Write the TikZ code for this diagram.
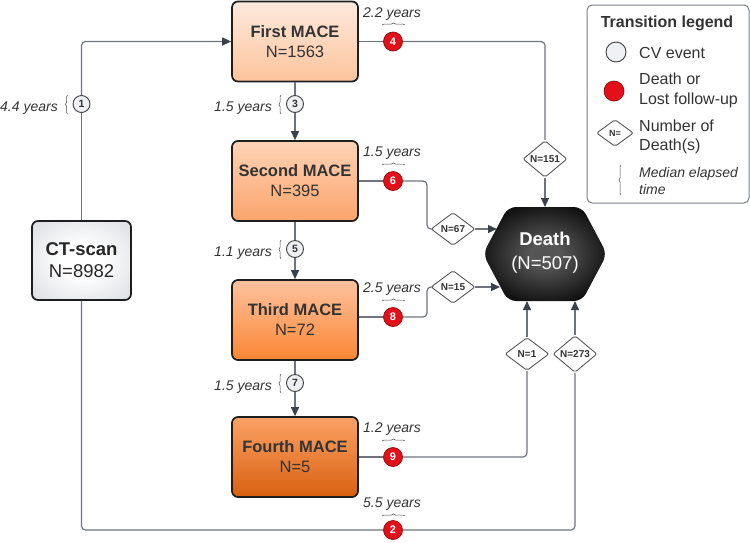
\documentclass[tikz,border=0pt]{standalone}
\usepackage{fontspec}
\setmainfont{Liberation Sans}
\usetikzlibrary{shapes.geometric,arrows.meta,decorations.pathreplacing,calc}
\definecolor{linegray}{HTML}{6F747C}
\definecolor{tipgray}{HTML}{3B414B}
\definecolor{txtgray}{HTML}{333333}
\definecolor{cvfill}{HTML}{EEF0F3}
\definecolor{redfill}{HTML}{E3101A}
\definecolor{redline}{HTML}{8A0A0A}
\definecolor{ctgray}{HTML}{C3C7CF}
\definecolor{boxborder}{HTML}{1E1E1E}
\definecolor{leggray}{HTML}{7A7E86}
\definecolor{mAtop}{HTML}{FDE9DD}
\definecolor{mAbot}{HTML}{FDC49C}
\definecolor{mBtop}{HTML}{FDD3B6}
\definecolor{mBbot}{HTML}{FCA46C}
\definecolor{mCtop}{HTML}{FDC29E}
\definecolor{mCbot}{HTML}{FB8634}
\definecolor{mDtop}{HTML}{FCA266}
\definecolor{mDmid}{HTML}{FB7B24}
\definecolor{mDbot}{HTML}{D8600F}
\pgfdeclareradialshading{ctshade}{\pgfpoint{0bp}{0bp}}{color(0bp)=(white); color(10bp)=(white); color(52bp)=(ctgray); color(75bp)=(ctgray)}
\pgfdeclareradialshading{deathshade}{\pgfpoint{0bp}{0bp}}{color(0bp)=(black!68); color(6bp)=(black!66); color(32bp)=(black); color(75bp)=(black)}
\begin{document}
\begin{tikzpicture}[x=1pt,y=-1pt,
  conn/.style={draw=linegray, line width=1.2pt, rounded corners=4pt},
  arr/.style={-{Triangle[length=9pt,width=8pt,color=tipgray]}},
  mace/.style={draw=boxborder, line width=1.7pt, rounded corners=6pt, minimum width=126pt, minimum height=80pt, align=center, text=txtgray, font=\fontsize{16.5}{20}\selectfont},
  ctbox/.style={draw=boxborder, line width=1.7pt, rounded corners=6pt, minimum width=99pt, minimum height=79pt, align=center, text=black!85, shading=ctshade, font=\fontsize{18.5}{22}\selectfont},
  cv/.style={circle, draw=black!75, fill=cvfill, line width=0.9pt, minimum size=17pt, inner sep=0pt, text=txtgray, font=\bfseries\fontsize{10.5}{12}\selectfont},
  rd/.style={circle, draw=redline, fill=redfill, line width=0.7pt, minimum size=19pt, inner sep=0pt, text=white, font=\bfseries\fontsize{11}{12}\selectfont},
  dia/.style={diamond, draw=black!65, fill=white, line width=0.9pt, minimum width=44pt, minimum height=33pt, inner sep=0pt, rounded corners=2pt, text=txtgray, font=\bfseries\fontsize{10}{12}\selectfont},
  yrs/.style={text=txtgray, font=\itshape\fontsize{14}{16}\selectfont, inner sep=0pt},
  brc/.style={draw=black!70, line width=0.5pt, decorate, decoration={brace, amplitude=2pt}},
  legtxt/.style={text=txtgray, font=\fontsize{16}{19}\selectfont, inner sep=0pt, anchor=base west},
  legit/.style={text=txtgray, font=\itshape\fontsize{14}{17}\selectfont, inner sep=0pt, anchor=base west}
]
\useasboundingbox (0,0) rectangle (750,542);

% main boxes
\node[ctbox] (ct) at (81.5,260.5) {\textbf{CT-scan}\\N=8982};
\node[mace, top color=mAtop, bottom color=mAbot] (m1) at (295,41.5) {\textbf{First MACE}\\N=1563};
\node[mace, top color=mBtop, bottom color=mBbot] (m2) at (295,181) {\textbf{Second MACE}\\N=395};
\node[mace, top color=mCtop, bottom color=mCbot] (m3) at (295,320) {\textbf{Third MACE}\\N=72};
\node[mace, top color=mDtop, middle color=mDmid, bottom color=mDbot] (m4) at (295,457) {\textbf{Fourth MACE}\\N=5};

% death hexagon
\shade[shading=deathshade, rounded corners=8pt] (483,254) -- (508,207) -- (582,207) -- (607,254) -- (582,301) -- (508,301) -- cycle;
\node[align=center, text=white, font=\fontsize{18.5}{24}\selectfont] (death) at (545,253) {\textbf{Death}\\(N=507)};
\coordinate (dTop) at (545,207);
\coordinate (dL1) at (497,229);
\coordinate (dL2) at (500,287);
\coordinate (dB1) at (527,301);
\coordinate (dB2) at (575,301);

% transition circles
\node[cv] (c1) at (81.5,104) {1};
\node[cv] (c3) at (295,104) {3};
\node[cv] (c5) at (295,249) {5};
\node[cv] (c7) at (295,383) {7};
\node[rd] (c4) at (393,41.5) {4};
\node[rd] (c6) at (393,181) {6};
\node[rd] (c8) at (393,317) {8};
\node[rd] (c9) at (393,457) {9};
\node[rd] (c2) at (393,530) {2};

% death counts
\node[dia] (n151) at (545,159) {N=151};
\node[dia] (n67) at (453,229) {N=67};
\node[dia] (n15) at (453,287) {N=15};
\node[dia] (n1) at (527,354) {N=1};
\node[dia] (n273) at (575,354) {N=273};

% bends
\coordinate (b6) at (427,181);
\coordinate (b8) at (427,317);

% connectors
\draw[conn] (ct.north) -- (c1);
\draw[conn,arr] (c1) |- (m1.west);
\draw[conn] (m1) -- (c3);
\draw[conn,arr] (c3) -- (m2);
\draw[conn] (m2) -- (c5);
\draw[conn,arr] (c5) -- (m3);
\draw[conn] (m3) -- (c7);
\draw[conn,arr] (c7) -- (m4);

\draw[conn] (m1) -- (c4);
\draw[conn] (c4) -| (n151);
\draw[conn,arr] (n151) -- (dTop);

\draw[conn] (m2) -- (c6);
\draw[conn] (c6) -- (b6) |- (n67);
\draw[conn,arr] (n67) -- (dL1);

\draw[conn] (m3.east |- c8) -- (c8);
\draw[conn] (c8) -- (b8) |- (n15);
\draw[conn,arr] (n15) -- (dL2);

\draw[conn] (m4) -- (c9);
\draw[conn] (c9) -| (n1);
\draw[conn,arr] (n1) -- (dB1);

\draw[conn] (ct.south) |- (c2);
\draw[conn] (c2) -| (n273);
\draw[conn,arr] (n273) -- (dB2);

% elapsed time labels
\node[yrs, anchor=base east] (t1) at (58,111) {4.4 years};
\draw[brc] (67.5,114) -- (67.5,95);
\node[yrs, anchor=base east] (t3) at (272,111) {1.5 years};
\draw[brc] (281,114) -- (281,95);
\node[yrs, anchor=base east] (t5) at (272,256) {1.1 years};
\draw[brc] (281,259) -- (281,240);
\node[yrs, anchor=base east] (t7) at (272,390) {1.5 years};
\draw[brc] (281,393) -- (281,374);

\node[yrs, anchor=base] (t4) at (392,17) {2.2 years};
\draw[brc] (382,25) -- (405,25);
\node[yrs, anchor=base] (t6) at (392,156.5) {1.5 years};
\draw[brc] (382,165) -- (405,165);
\node[yrs, anchor=base] (t8) at (392,292.5) {2.5 years};
\draw[brc] (382,301) -- (405,301);
\node[yrs, anchor=base] (t9) at (392,432.5) {1.2 years};
\draw[brc] (382,441) -- (405,441);
\node[yrs, anchor=base] (t2) at (392,507.5) {5.5 years};
\draw[brc] (382,516) -- (405,516);

% legend
\node[draw=leggray, line width=1pt, rounded corners=5pt, minimum width=162pt, minimum height=198pt, inner sep=0pt] (leg) at (668,104) {};
\node[text=txtgray, font=\bfseries\fontsize{16}{19}\selectfont, inner sep=0pt, anchor=base] (legtitle) at (667,27.5) {Transition legend};
\node[cv, minimum size=20pt] (lcv) at (616,52) {};
\node[legtxt] (lcvt) at (639,58) {CV event};
\node[rd, minimum size=20pt] (lrd) at (614,91) {};
\node[legtxt] (lrdt1) at (639,84) {Death or};
\node[legtxt] (lrdt2) at (639,104) {Lost follow-up};
\node[dia, minimum width=37pt, minimum height=27pt, font=\bfseries\fontsize{9}{11}\selectfont] (ldia) at (615,133) {N=};
\node[legtxt] (ldt1) at (639,131) {Number of};
\node[legtxt] (ldt2) at (639,150) {Death(s)};
\draw[brc] (621,195) -- (621,165);
\node[legit] (lbt1) at (639,177) {Median elapsed};
\node[legit] (lbt2) at (639,194) {time};
\end{tikzpicture}
\end{document}
